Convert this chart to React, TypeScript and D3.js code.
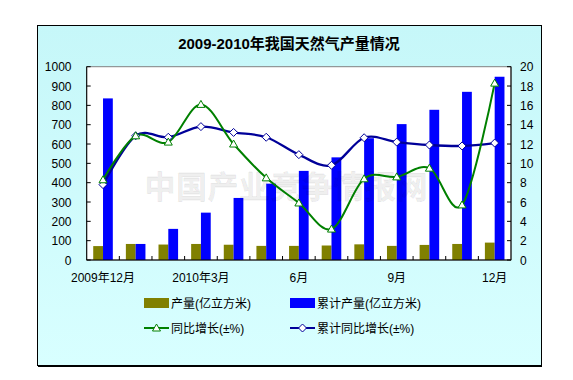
import React from 'react';
import * as d3 from 'd3';

const categories = ['2009-12','2010-01','2010-02','2010-03','2010-04','2010-05','2010-06','2010-07','2010-08','2010-09','2010-10','2010-11','2010-12'];
const tickLabels = ['2009年12月','','','2010年3月','','','6月','','','9月','','','12月'];
const production = [72, 83, 80, 83, 79, 73, 73, 75, 81, 73, 78, 83, 90];
const cumulative = [836, 83, 161, 245, 321, 395, 461, 531, 630, 703, 777, 870, 948];
const yoy = [8.3, 12.85, 12.2, 16.1, 12.0, 8.5, 5.9, 3.2, 8.4, 8.6, 9.5, 5.7, 18.3];
const cumYoy = [7.8, 12.85, 12.7, 13.8, 13.2, 12.7, 10.9, 9.8, 12.65, 12.2, 11.9, 11.8, 12.1];
const leftTicks = [0,100,200,300,400,500,600,700,800,900,1000];
const rightTicks = [0,2,4,6,8,10,12,14,16,18,20];

const W = 573, H = 380;
const plot = { left: 86.7, right: 511, top: 66.7, bottom: 260 };
const FONT = "Arial, 'Liberation Sans', 'Noto Sans CJK SC', sans-serif";

export default function App() {
  const x = d3.scaleBand<string>().domain(categories).range([plot.left, plot.right]).paddingInner(0).paddingOuter(0);
  const bw = x.bandwidth();
  const yL = d3.scaleLinear().domain([0, 1000]).range([plot.bottom, plot.top]);
  const yR = d3.scaleLinear().domain([0, 20]).range([plot.bottom, plot.top]);
  const barW = bw * 0.3;
  const cx = (c: string) => (x(c) as number) + bw / 2;
  const line = d3.line<number>().x((_, i) => cx(categories[i])).y(d => yR(d)).curve(d3.curveCardinal.tension(0));
  const tri = (px: number, py: number) => `M${px},${py - 4}L${px + 4},${py + 3}L${px - 4},${py + 3}Z`;
  const dia = (px: number, py: number) => `M${px},${py - 4}L${px + 4},${py}L${px},${py + 4}L${px - 4},${py}Z`;

  return (
    <svg width={W} height={H} style={{ position: 'absolute', left: 0, top: 0 }} fontFamily={FONT}>
      <defs>
        <linearGradient id="bg" x1="0" y1="0" x2="0" y2="1">
          <stop offset="0" stopColor="#c6f7f9" />
          <stop offset="1" stopColor="#d8ffff" />
        </linearGradient>
      </defs>
      <rect x={0} y={0} width={W} height={H} fill="#fff" />
      <rect x={37.5} y={25.5} width={504} height={340} fill="url(#bg)" stroke="#000" strokeWidth={1} />
      <line x1={38} y1={366.5} x2={542} y2={366.5} stroke="#000" strokeWidth={1} />
      <text x={289} y={49} textAnchor="middle" fontSize={15} fontWeight="bold" fill="#000">2009-2010年我国天然气产量情况</text>

      <rect x={plot.left} y={plot.top} width={plot.right - plot.left} height={plot.bottom - plot.top} fill="#fff" stroke="#808080" strokeWidth={1} />

      {categories.map((c, i) => (
        <g key={c}>
          <rect x={cx(c) - barW} y={yL(production[i])} width={barW} height={plot.bottom - yL(production[i])} fill="#808000" />
          <rect x={cx(c)} y={yL(cumulative[i])} width={barW} height={plot.bottom - yL(cumulative[i])} fill="#0000ff" />
        </g>
      ))}

      <text x={286} y={198} textAnchor="middle" fontSize={31} fontWeight="bold" fill="#000" fillOpacity={0.07} stroke="#000" strokeOpacity={0.06} strokeWidth={1} textLength={283} lengthAdjust="spacing" fontFamily="'Noto Sans CJK SC', sans-serif">中国产业竞争情报网</text>

      <path d={line(cumYoy) || ''} fill="none" stroke="#000099" strokeWidth={2.3} />
      <path d={line(yoy) || ''} fill="none" stroke="#008000" strokeWidth={2} />
      {cumYoy.map((v, i) => (
        <path key={'d' + i} d={dia(cx(categories[i]), yR(v))} fill="#fff" stroke="#000099" strokeWidth={1} />
      ))}
      {yoy.map((v, i) => (
        <path key={'t' + i} d={tri(cx(categories[i]), yR(v))} fill="#fff" stroke="#008000" strokeWidth={1} />
      ))}

      <line x1={plot.left} y1={plot.top} x2={plot.left} y2={plot.bottom} stroke="#000" />
      <line x1={plot.right} y1={plot.top} x2={plot.right} y2={plot.bottom} stroke="#000" />
      <line x1={plot.left} y1={plot.bottom} x2={plot.right} y2={plot.bottom} stroke="#000" />
      {leftTicks.map(t => (
        <g key={'l' + t}>
          <line x1={plot.left} x2={plot.left + 4} y1={yL(t)} y2={yL(t)} stroke="#000" />
          <text x={71.5} y={yL(t) + 4.5} textAnchor="end" fontSize={12} fill="#000">{t}</text>
        </g>
      ))}
      {rightTicks.map(t => (
        <g key={'r' + t}>
          <line x1={plot.right - 4} x2={plot.right} y1={yR(t)} y2={yR(t)} stroke="#000" />
          <text x={520} y={yR(t) + 4.5} textAnchor="start" fontSize={12} fill="#000">{t}</text>
        </g>
      ))}
      {categories.slice(1).map(c => (
        <line key={'x' + c} x1={x(c) as number} x2={x(c) as number} y1={plot.bottom} y2={plot.bottom - 4} stroke="#000" />
      ))}
      {categories.map((c, i) => tickLabels[i] ? (
        <text key={'xl' + c} x={cx(c)} y={282} textAnchor="middle" fontSize={12} fill="#000">{tickLabels[i]}</text>
      ) : null)}

      <rect x={144} y={298} width={25} height={10} fill="#808000" />
      <text x={171} y={308} fontSize={12} fill="#000">产量(亿立方米)</text>
      <rect x={290} y={298} width={25} height={10} fill="#0000ff" />
      <text x={317} y={308} fontSize={12} fill="#000">累计产量(亿立方米)</text>
      <line x1={144} x2={169} y1={328} y2={328} stroke="#008000" strokeWidth={2} />
      <path d={tri(156.5, 328)} fill="#fff" stroke="#008000" strokeWidth={1} />
      <text x={171} y={333} fontSize={12} fill="#000">同比增长(±%)</text>
      <line x1={290} x2={315} y1={328} y2={328} stroke="#000099" strokeWidth={2} />
      <path d={dia(302.5, 328)} fill="#fff" stroke="#000099" strokeWidth={1} />
      <text x={317} y={333} fontSize={12} fill="#000">累计同比增长(±%)</text>
    </svg>
  );
}
